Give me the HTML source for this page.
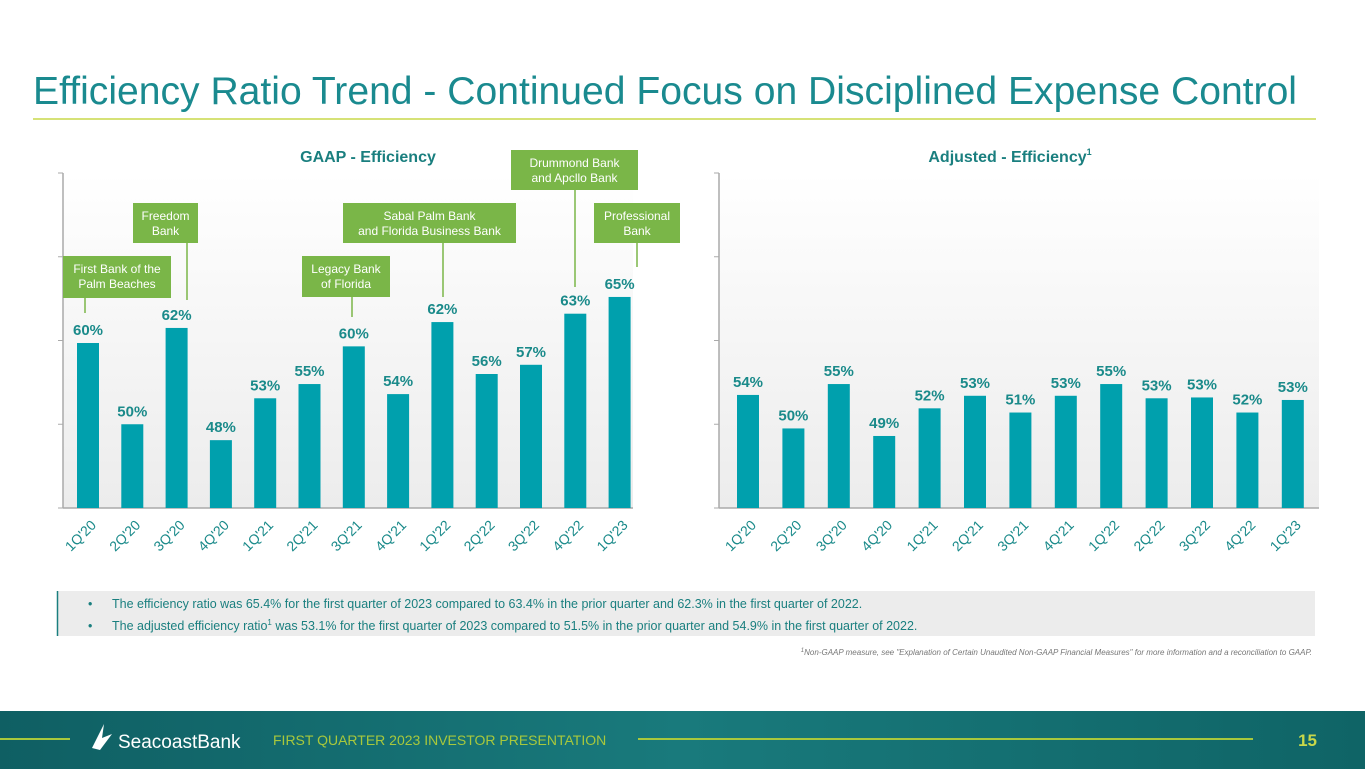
<!DOCTYPE html>
<html><head><meta charset="utf-8"><style>
body{margin:0;width:1365px;height:769px;overflow:hidden;background:#fff;font-family:"Liberation Sans",sans-serif;}
svg text{font-family:"Liberation Sans",sans-serif;}
</style></head><body>
<svg id="s" width="1365" height="769" xmlns="http://www.w3.org/2000/svg">
<defs>
<linearGradient id="pg" x1="0" y1="0" x2="0" y2="1"><stop offset="0" stop-color="#fff"/><stop offset="1" stop-color="#ececec"/></linearGradient>
<linearGradient id="ft" x1="0" y1="0" x2="1" y2="0"><stop offset="0" stop-color="#0f5f63"/><stop offset="0.5" stop-color="#197a7c"/><stop offset="1" stop-color="#0f6466"/></linearGradient>
</defs>
<text x="33" y="104" font-size="39" fill="#1a8a8f" textLength="1264" lengthAdjust="spacingAndGlyphs">Efficiency Ratio Trend - Continued Focus on Disciplined Expense Control</text>
<line x1="33" y1="119" x2="1316" y2="119" stroke="#c8d84a" stroke-width="1.5"/>
<rect x="63" y="173" width="570" height="335" fill="url(#pg)"/>
<rect x="719" y="173" width="600" height="335" fill="url(#pg)"/>
<text x="368" y="162" font-size="16" font-weight="bold" fill="#1a7f7f" text-anchor="middle">GAAP - Efficiency</text>
<text x="1010" y="162" font-size="16" font-weight="bold" fill="#1a7f7f" text-anchor="middle">Adjusted - Efficiency<tspan font-size="9" dy="-7">1</tspan></text>
<g id="g1"></g><g id="g2"></g><g id="callouts"></g>
<rect x="57" y="591" width="1258" height="45" fill="#ececec"/>
<line x1="57.5" y1="591" x2="57.5" y2="636" stroke="#1a7f7f" stroke-width="1.5"/>
<text x="88" y="608" font-size="12.5" fill="#1a7f7f">•<tspan x="112">The efficiency ratio was 65.4% for the first quarter of 2023 compared to 63.4% in the prior quarter and 62.3% in the first quarter of 2022.</tspan></text>
<text x="88" y="630" font-size="12.5" fill="#1a7f7f">•<tspan x="112">The adjusted efficiency ratio</tspan><tspan font-size="8" dy="-5">1</tspan><tspan dy="5"> was 53.1% for the first quarter of 2023 compared to 51.5% in the prior quarter and 54.9% in the first quarter of 2022.</tspan></text>
<text x="1312" y="655" font-size="8" font-style="italic" fill="#777" text-anchor="end"><tspan font-size="6" dy="-3">1</tspan><tspan dy="3">Non-GAAP measure, see "Explanation of Certain Unaudited Non-GAAP Financial Measures" for more information and a reconciliation to GAAP.</tspan></text>
<rect x="0" y="711" width="1365" height="58" fill="url(#ft)"/>
<line x1="0" y1="739" x2="70" y2="739" stroke="#a8c83c" stroke-width="2"/>
<line x1="638" y1="739" x2="1253" y2="739" stroke="#a8c83c" stroke-width="2"/>
<path d="M92 748 L104 724 L102 738 L112 734 L100 750 Z" fill="#fff"/>
<text x="118" y="748" font-size="19" fill="#fff">SeacoastBank</text>
<text x="273" y="745" font-size="14" fill="#a8c83c">FIRST QUARTER 2023 INVESTOR PRESENTATION</text>
<text x="1317" y="746" font-size="17" font-weight="bold" fill="#c8d84a" text-anchor="end">15</text>
</svg>
<script>
const categories=["1Q'20","2Q'20","3Q'20","4Q'20","1Q'21","2Q'21","3Q'21","4Q'21","1Q'22","2Q'22","3Q'22","4Q'22","1Q'23"];
const gaapValues=[59.7,50.0,61.5,48.1,53.1,54.8,59.3,53.6,62.2,56.0,57.1,63.2,65.2];
const gaapLabels=["60%","50%","62%","48%","53%","55%","60%","54%","62%","56%","57%","63%","65%"];
const adjValues=[53.5,49.5,54.8,48.6,51.9,53.4,51.4,53.4,54.8,53.1,53.2,51.4,52.9];
const adjLabels=["54%","50%","55%","49%","52%","53%","51%","53%","55%","53%","53%","52%","53%"];
const yTicks=[40,50,60,70,80];
const NS="http://www.w3.org/2000/svg";
function mk(t,a,p){const e=document.createElementNS(NS,t);for(const k in a)e.setAttribute(k,a[k]);p.appendChild(e);return e;}
function y(v){return 508-(v-40)*(335/40);}
function chart(g,x0,x1,firstX,step,vals,labs,prefix){
  mk('line',{x1:x0,y1:173,x2:x0,y2:508,stroke:'#aaa','stroke-width':1.5},g);
  mk('line',{x1:x0,y1:508,x2:x1,y2:508,stroke:'#aaa','stroke-width':1.5},g);
  yTicks.forEach(t=>{const l=mk('line',{x1:x0-5,y1:y(t),x2:x0,y2:y(t),stroke:'#aaa'},g);
    
    });
  vals.forEach((v,i)=>{
    const bx=firstX+i*step;
    const r=mk('rect',{x:bx,y:y(v),width:22,height:508-y(v),fill:'#00a0ad'},g);
    
    
    const t=mk('text',{x:bx+11,y:y(v)-8,'font-size':15,'font-weight':'bold',fill:'#1a8a8a','text-anchor':'middle'},g);
    t.textContent=labs[i];
    
    
    const ax=bx+20, ay=526;
    const c=mk('text',{x:ax,y:ay,'font-size':14,fill:'#1a8a8a','text-anchor':'end',transform:`rotate(-45 ${ax} ${ay})`},g);
    c.textContent=categories[i];
    
    
  });
}
chart(document.getElementById('g1'),63,633,77,44.3,gaapValues,gaapLabels,'gaap');
chart(document.getElementById('g2'),719,1319,737,45.4,adjValues,adjLabels,'adjusted');
const callouts=[
 {x:63,y:256,w:108,h:42,t:["First Bank of the","Palm Beaches"],lx:85,l1:298,l2:313},
 {x:133,y:203,w:65,h:40,t:["Freedom","Bank"],lx:187,l1:243,l2:300},
 {x:302,y:256,w:88,h:41,t:["Legacy Bank","of Florida"],lx:352,l1:297,l2:317},
 {x:343,y:203,w:173,h:40,t:["Sabal Palm Bank","and Florida Business Bank"],lx:443,l1:243,l2:297},
 {x:511,y:150,w:127,h:40,t:["Drummond Bank","and Apcllo Bank"],lx:575,l1:190,l2:287},
 {x:594,y:203,w:86,h:40,t:["Professional","Bank"],lx:637,l1:243,l2:267}];
const cg=document.getElementById('callouts');
callouts.forEach(c=>{
  const l=mk('line',{x1:c.lx,y1:c.l1,x2:c.lx,y2:c.l2,stroke:'#7ab648','stroke-width':1.5},cg);
  
  
  const r=mk('rect',{x:c.x,y:c.y,width:c.w,height:c.h,fill:'#7ab648'},cg);
  
  
  c.t.forEach((s,k)=>{const t=mk('text',{x:c.x+c.w/2,y:c.y+17+k*15,'font-size':12,fill:'#fff','text-anchor':'middle'},cg);t.textContent=s;
    
    });
});
</script>
</body></html>
